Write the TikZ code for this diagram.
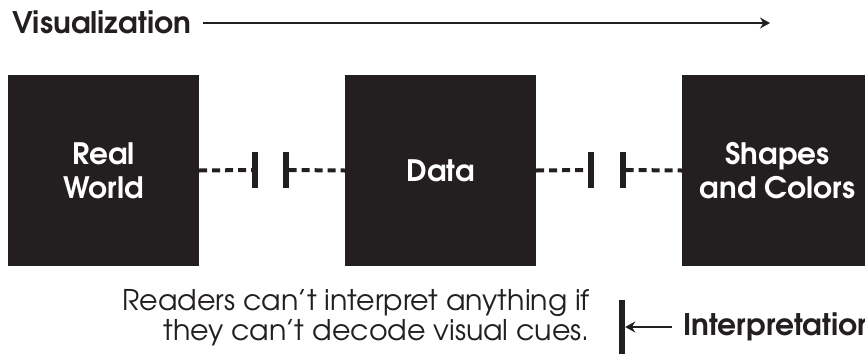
\documentclass[tikz,border=0pt]{standalone}
\usepackage{fontspec}
\setmainfont{TeX Gyre Adventor}
\usetikzlibrary{arrows.meta,positioning}
\definecolor{ink}{HTML}{231F20}

\begin{document}
\begin{tikzpicture}[x=1pt, y=-1pt,
  every node/.style={text=ink},
  stage/.style={fill=ink, minimum width=191pt, minimum height=191pt, inner sep=0pt, align=center, text=white, font=\fontsize{29.5}{34}\selectfont\bfseries},
  stopbar/.style={fill=ink, minimum width=6pt, minimum height=36pt, inner sep=0pt},
  gapline/.style={draw=ink, line width=4pt, dash pattern=on 8pt off 5pt},
  heading/.style={inner sep=0pt, font=\fontsize{29.7}{32}\selectfont\bfseries},
  pointer/.style={draw=ink, line width=1.5pt, -{Stealth[length=10pt, width=11pt]}}
]
\useasboundingbox (0,0) rectangle (865,354);

% ---------- Stages ----------
\node[stage] (real) at (103.5,170.5) {Real\\World};
\node[stage] (data) at (440.5,170.5) {Data};
\node[stage] (shapes) at (777.5,170.5) {Shapes\\and Colors};

% ---------- Breaks between stages ----------
\node[stopbar] (stopA1) at (255,170) {};
\node[stopbar] (stopA2) at (285.5,170) {};
\node[stopbar] (stopB1) at (591,170) {};
\node[stopbar] (stopB2) at (622.5,170) {};
\draw[gapline] (real.east) -- (stopA1.west);
\draw[gapline] (stopA2.east) -- (data.west);
\draw[gapline] (data.east) -- (stopB1.west);
\draw[gapline] (stopB2.east) -- (shapes.west);

% ---------- Top axis ----------
\node[heading, anchor=base west] (vis) at (12,33) {Visualization};
\coordinate (visend) at (770,23);
\draw[pointer] ([xshift=12pt]vis.east |- visend) -- (visend);

% ---------- Bottom note ----------
\node[inner sep=0pt, anchor=base east, align=right, font=\fontsize{28.5}{30}\selectfont] (note) at (590,340) {Readers can’t interpret anything if\\they can’t decode visual cues.};
\node[stopbar, minimum height=54pt] (stopI) at (622,327) {};
\node[heading, anchor=base west] (interp) at (683,335) {Interpretation};
\draw[pointer] ([xshift=-11pt]interp.west |- stopI) -- (stopI.east);
\end{tikzpicture}
\end{document}
